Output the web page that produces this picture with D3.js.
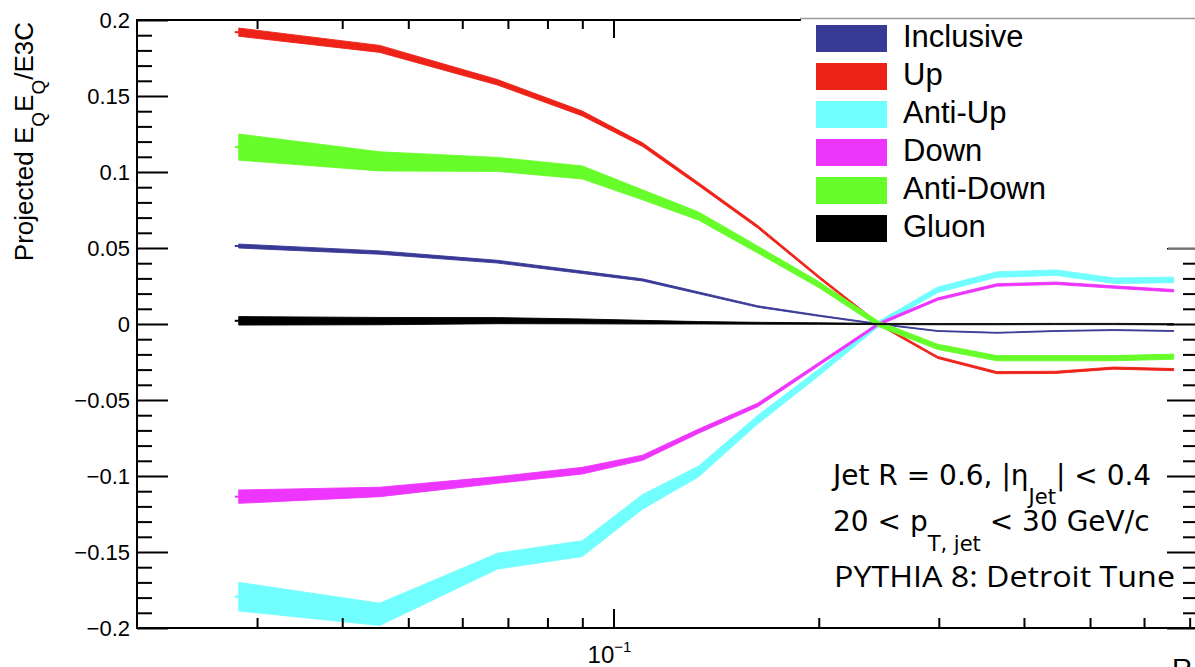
<!DOCTYPE html>
<html><head><meta charset="utf-8">
<script src="https://cdn.jsdelivr.net/npm/d3@7"></script>
<style>
body{margin:0;background:#fff;}
svg{display:block;}
</style></head><body>
<svg id="c" width="1195" height="667"></svg>
<script>
// ---------- data ----------
const xVals = [0.0282,0.0454,0.0676,0.0900,0.1103,0.1333,0.1627,0.1999,0.2448,0.2989,0.3649,0.4455,0.5418,0.6633];

const seriesNames  = ["Inclusive","Up","Anti-Up","Down","Anti-Down","Gluon"];
const seriesColors = ["#393996","#ee2318","#70fefe","#ee35fd","#66fd2a","#000000"];

const inclusive    = [0.0513,0.0470,0.0410,0.0340,0.0290,0.0205,0.0115,0.0055,0.0000,-0.0046,-0.0058,-0.0046,-0.0040,-0.0046];
const inclusiveErr = [0.0013,0.0011,0.0009,0.0008,0.0007,0.0006,0.0005,0.0004,0.0003,0.0003,0.0003,0.0003,0.0003,0.0003];

const up    = [0.1920,0.1810,0.1590,0.1385,0.1180,0.0920,0.0640,0.0310,0.0000,-0.0220,-0.0320,-0.0318,-0.0290,-0.0300];
const upErr = [0.0027,0.0023,0.0018,0.0016,0.0012,0.0010,0.0009,0.0008,0.0007,0.0007,0.0007,0.0007,0.0007,0.0007];

const antiUp    = [-0.1794,-0.1910,-0.1560,-0.1478,-0.1170,-0.0970,-0.0630,-0.0320,0.0000,0.0225,0.0325,0.0338,0.0285,0.0290];
const antiUpErr = [0.0094,0.0073,0.0052,0.0052,0.0048,0.0035,0.0028,0.0022,0.0018,0.0018,0.0018,0.0018,0.0018,0.0018];

const down    = [-0.1136,-0.1105,-0.1026,-0.0965,-0.0880,-0.0705,-0.0533,-0.0265,0.0000,0.0164,0.0257,0.0268,0.0243,0.0219];
const downErr = [0.0044,0.0031,0.0022,0.0022,0.0017,0.0014,0.0012,0.0010,0.0009,0.0008,0.0008,0.0008,0.0008,0.0008];

const antiDown    = [0.1164,0.1070,0.1050,0.0997,0.0850,0.0710,0.0490,0.0260,0.0000,-0.0150,-0.0225,-0.0225,-0.0225,-0.0215];
const antiDownErr = [0.0086,0.0063,0.0046,0.0043,0.0033,0.0027,0.0023,0.0020,0.0018,0.0017,0.0017,0.0017,0.0017,0.0017];

const gluon    = [0.0021,0.0019,0.0022,0.0017,0.0012,0.0008,0.0005,0.0003,0.0000,-0.0001,-0.0001,0.0000,0.0000,-0.0002];
const gluonErr = [0.0028,0.0024,0.0020,0.0016,0.0012,0.0008,0.0006,0.0005,0.0004,0.0004,0.0004,0.0004,0.0004,0.0004];

const yMajorTicks = [-0.2,-0.15,-0.1,-0.05,0,0.05,0.1,0.15,0.2];
const yTickLabels = ["\u22120.2","\u22120.15","\u22120.1","\u22120.05","0","0.05","0.1","0.15","0.2"];
const yMinorTicks = [-0.19,-0.18,-0.17,-0.16,-0.14,-0.13,-0.12,-0.11,-0.09,-0.08,-0.07,-0.06,-0.04,-0.03,-0.02,-0.01,
                     0.01,0.02,0.03,0.04,0.06,0.07,0.08,0.09,0.11,0.12,0.13,0.14,0.16,0.17,0.18,0.19];
const xMajorTicks = [0.1];
const xMinorTicks = [0.03,0.04,0.05,0.06,0.07,0.08,0.09,0.2,0.3,0.4,0.5,0.6,0.7];

const yTitle = ["Projected E","Q","E","Q","/E3C"];
const noteLine1 = ["Jet R = 0.6, |\u03b7","Jet","| < 0.4"];
const noteLine2 = ["20 < p","T, jet"," < 30 GeV/c"];
const noteLine3 = "PYTHIA 8: Detroit Tune";

const seriesVals = [inclusive, up, antiUp, down, antiDown, gluon];
const seriesErrs = [inclusiveErr, upErr, antiUpErr, downErr, antiDownErr, gluonErr];

// ---------- layout ----------
const svg = d3.select("#c");
const L = 137, R = 1198, T = 20, B = 628;
const x = d3.scaleLog().domain([0.02, 0.72]).range([L, R]);
const y = d3.scaleLinear().domain([-0.2, 0.2]).range([B, T]);

// ---------- series bands ----------
const area = d3.area()
  .x(d => x(d.x))
  .y0(d => y(d.v - d.e))
  .y1(d => y(d.v + d.e));

seriesVals.forEach((vals, s) => {
  const data = vals.map((v, i) => ({x: xVals[i], v, e: seriesErrs[s][i]}));
  svg.append("path").datum(data)
    .attr("d", area)
    .attr("fill", seriesColors[s])
    .attr("stroke", seriesColors[s])
    .attr("stroke-width", 0.9)
    .attr("stroke-linejoin", "round");
  svg.append("line")
    .attr("x1", x(xVals[0]) - 4).attr("x2", x(xVals[0]))
    .attr("y1", y(vals[0])).attr("y2", y(vals[0]))
    .attr("stroke", seriesColors[s]).attr("stroke-width", 2);
});

// ---------- axes ----------
function styleAxis(g){
  g.select(".domain").remove();
  g.selectAll(".tick line").attr("stroke", "#000").attr("stroke-width", 2);
}
svg.append("g").attr("transform", `translate(${L},0)`)
  .call(d3.axisLeft(y).tickValues(yMajorTicks).tickSize(-31).tickPadding(7)
        .tickFormat((d, i) => yTickLabels[i]))
  .call(styleAxis)
  .call(g => g.selectAll("text").attr("font-family", "Liberation Sans, Arial, sans-serif")
        .attr("font-size", 22).attr("fill", "#000"));
svg.append("g").attr("transform", `translate(${L},0)`)
  .call(d3.axisLeft(y).tickValues(yMinorTicks).tickSize(-15).tickFormat(""))
  .call(styleAxis);
svg.append("g").attr("transform", `translate(${R},0)`)
  .call(d3.axisRight(y).tickValues(yMajorTicks).tickSize(-31).tickFormat(""))
  .call(styleAxis);
svg.append("g").attr("transform", `translate(${R},0)`)
  .call(d3.axisRight(y).tickValues(yMinorTicks).tickSize(-15).tickFormat(""))
  .call(styleAxis);
svg.append("g").attr("transform", `translate(0,${B})`)
  .call(d3.axisBottom(x).tickValues(xMajorTicks).tickSize(-19).tickFormat(""))
  .call(styleAxis);
svg.append("g").attr("transform", `translate(0,${B})`)
  .call(d3.axisBottom(x).tickValues(xMinorTicks).tickSize(-10).tickFormat(""))
  .call(styleAxis);
svg.append("g").attr("transform", `translate(0,${T})`)
  .call(d3.axisTop(x).tickValues(xMajorTicks).tickSize(-18).tickFormat(""))
  .call(styleAxis);
svg.append("g").attr("transform", `translate(0,${T})`)
  .call(d3.axisTop(x).tickValues(xMinorTicks).tickSize(-9).tickFormat(""))
  .call(styleAxis);

// frame
const frame = svg.append("g").attr("stroke", "#000").attr("stroke-width", 2);
frame.append("line").attr("x1", L).attr("x2", L).attr("y1", T - 1).attr("y2", B + 1);
frame.append("line").attr("x1", L).attr("x2", R).attr("y1", B).attr("y2", B);
frame.append("line").attr("x1", L).attr("x2", R).attr("y1", T).attr("y2", T);
frame.append("line").attr("x1", R).attr("x2", R).attr("y1", T).attr("y2", B);

// x tick label 10^-1
xMajorTicks.forEach(v => {
  const t = svg.append("text").attr("x", x(v) - 4).attr("y", 663)
    .attr("text-anchor", "middle").attr("font-family", "Liberation Sans, Arial, sans-serif").attr("font-size", 24);
  t.append("tspan").text("10");
  t.append("tspan").attr("font-size", 15).attr("dy", -11).text("\u22121");
});

// x title (partly outside)
svg.append("text").attr("x", 1172).attr("y", 678)
  .attr("font-family", "Liberation Sans, Arial, sans-serif").attr("font-size", 28).text("R");

// y title
const yt = svg.append("text")
  .attr("transform", "translate(33,22) rotate(-90)")
  .attr("text-anchor", "end")
  .attr("font-family", "Liberation Sans, Arial, sans-serif").attr("font-size", 26);
yt.append("tspan").text(yTitle[0]);
yt.append("tspan").attr("font-size", 19).attr("dy", 12).text(yTitle[1]);
yt.append("tspan").attr("dy", -12).text(yTitle[2]);
yt.append("tspan").attr("font-size", 19).attr("dy", 12).text(yTitle[3]);
yt.append("tspan").attr("dy", -12).text(yTitle[4]);

// ---------- annotation ----------
const n1 = svg.append("text").attr("x", 833).attr("y", 485)
  .attr("font-family", "DejaVu Sans").attr("font-size", 28);
n1.append("tspan").text(noteLine1[0]);
n1.append("tspan").attr("font-size", 21).attr("dy", 19).text(noteLine1[1]);
n1.append("tspan").attr("dy", -19).text(noteLine1[2]);

const n2 = svg.append("text").attr("x", 833).attr("y", 531)
  .attr("font-family", "DejaVu Sans").attr("font-size", 28);
n2.append("tspan").text(noteLine2[0]);
n2.append("tspan").attr("font-size", 21).attr("dy", 20).text(noteLine2[1]);
n2.append("tspan").attr("dy", -20).text(noteLine2[2]);

svg.append("text").attr("x", 834).attr("y", 587)
  .attr("font-family", "Open Sans").attr("font-size", 30)
  .attr("textLength", 341).attr("lengthAdjust", "spacingAndGlyphs")
  .text(noteLine3);

// ---------- legend ----------
const lg = svg.append("g");
lg.append("rect").attr("x", 801).attr("y", 18).attr("width", 400).attr("height", 230).attr("fill", "#fff");
lg.append("line").attr("x1", 800).attr("x2", 1195).attr("y1", 18.5).attr("y2", 18.5)
  .attr("stroke", "#9a9a9a").attr("stroke-width", 1.5);
lg.append("line").attr("x1", 1168).attr("x2", 1195).attr("y1", 248).attr("y2", 248)
  .attr("stroke", "#9a9a9a").attr("stroke-width", 1.5);
const rowH = 38;
seriesNames.forEach((name, i) => {
  lg.append("rect").attr("x", 816).attr("y", 25 + i * rowH).attr("width", 71).attr("height", 27)
    .attr("fill", seriesColors[i]);
  lg.append("text").attr("x", 903).attr("y", 47 + i * rowH)
    .attr("font-family", "Liberation Sans, Arial, sans-serif").attr("font-size", 31).text(name);
});
</script>
</body></html>
